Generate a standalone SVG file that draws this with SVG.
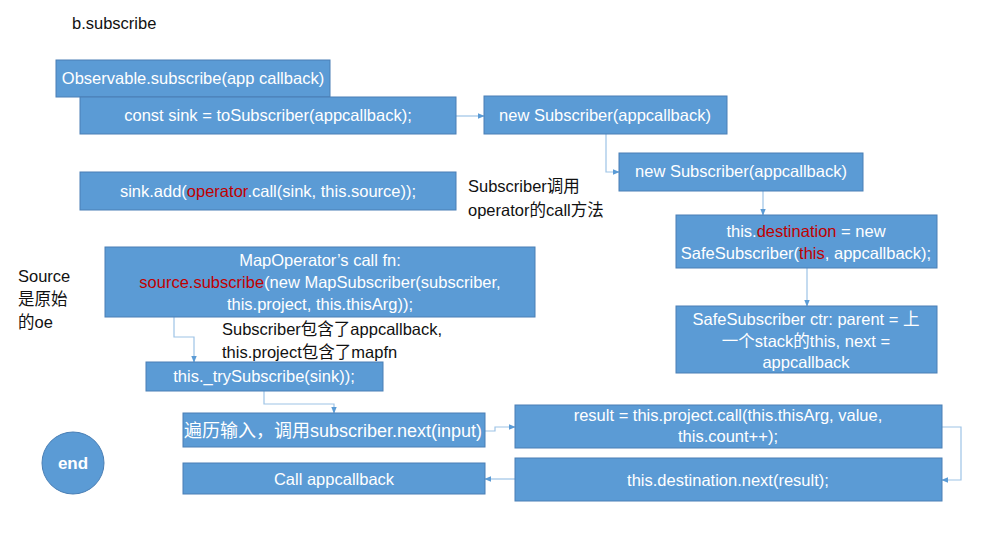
<svg xmlns="http://www.w3.org/2000/svg" width="987" height="536" viewBox="0 0 987 536">
<defs>
<style>
.box{fill:#5b9bd5;stroke:#4a7fb5;stroke-width:1}
.t{font-family:"Liberation Sans","Noto Sans CJK SC",sans-serif;font-size:16.5px;fill:#ffffff;text-anchor:middle}
.k{font-family:"Liberation Sans","Noto Sans CJK SC",sans-serif;font-size:16.5px;fill:#111111}
.r{fill:#c00000}
.c{fill:none;stroke:#9dc3e6;stroke-width:1.2}
</style>
<marker id="ah" viewBox="0 0 10 10" refX="9" refY="5" markerWidth="7" markerHeight="7" orient="auto-start-reverse" markerUnits="userSpaceOnUse">
<path d="M0,1 L10,5 L0,9 z" fill="#5b9bd5"/>
</marker>
</defs>
<rect width="987" height="536" fill="#ffffff"/>
<text class="k" x="72" y="29">b.subscribe</text>

<g id="connectors">
<path class="c" d="M456,116 L484,116" marker-end="url(#ah)"/>
<path class="c" d="M606,134 L606,172 L619,172" marker-end="url(#ah)"/>
<path class="c" d="M763,191 L763,215" marker-end="url(#ah)"/>
<path class="c" d="M807,268 L807,306" marker-end="url(#ah)"/>
<path class="c" d="M174,317 L174,337 L194,337 L194,362" marker-end="url(#ah)"/>
<path class="c" d="M264,391 L264,404 L334,404 L334,413" marker-end="url(#ah)"/>
<path class="c" d="M485,431 L495,431 L495,427 L515,427" marker-end="url(#ah)"/>
<path class="c" d="M942,427 L961,427 L961,480 L942,480" marker-end="url(#ah)"/>
<path class="c" d="M515,479 L485,479" marker-end="url(#ah)"/>
</g>

<g id="n1"><rect class="box" x="56" y="60" width="274" height="37"/><text class="t" x="193" y="84">Observable.subscribe(app callback)</text></g>
<g id="n2"><rect class="box" x="80" y="97" width="376" height="37"/><text class="t" x="268" y="121">const sink = toSubscriber(appcallback);</text></g>
<g id="n3"><rect class="box" x="484" y="96" width="243" height="38"/><text class="t" x="605" y="121">new Subscriber(appcallback)</text></g>
<g id="n4"><rect class="box" x="619" y="153" width="244" height="38"/><text class="t" x="741" y="177">new Subscriber(appcallback)</text></g>
<g id="n5"><rect class="box" x="80" y="172" width="376" height="38"/><text class="t" x="268" y="197">sink.add(<tspan class="r">operator</tspan>.call(sink, this.source));</text></g>
<g id="n6"><rect class="box" x="676" y="215" width="261" height="53"/><text class="t" x="806" y="237">this.<tspan class="r">destination</tspan> = new</text><text class="t" x="806" y="259">SafeSubscriber(<tspan class="r">this</tspan>, appcallback);</text></g>
<g id="n7"><rect class="box" x="676" y="306" width="261" height="67"/><text class="t" x="806" y="325">SafeSubscriber ctr: parent = 上</text><text class="t" x="806" y="347">一个stack的this, next  =</text><text class="t" x="806" y="368">appcallback</text></g>
<g id="n8"><rect class="box" x="105" y="247" width="430" height="70"/><text class="t" x="320" y="266">MapOperator’s call fn:</text><text class="t" x="320" y="288"><tspan class="r">source.subscribe</tspan>(new MapSubscriber(subscriber,</text><text class="t" x="320" y="310">this.project, this.thisArg));</text></g>
<g id="n9"><rect class="box" x="146" y="362" width="237" height="29"/><text class="t" x="264" y="382">this._trySubscribe(sink));</text></g>
<g id="n10"><rect class="box" x="183" y="413" width="302" height="34"/><text class="t" x="333" y="437" style="font-size:18px">遍历输入，调用subscriber.next(input)</text></g>
<g id="n11"><rect class="box" x="515" y="405" width="427" height="43"/><text class="t" x="728" y="421">result = this.project.call(this.thisArg, value,</text><text class="t" x="728" y="442">this.count++);</text></g>
<g id="n12"><rect class="box" x="183" y="463" width="302" height="31"/><text class="t" x="334" y="485">Call appcallback</text></g>
<g id="n13"><rect class="box" x="515" y="458" width="427" height="43"/><text class="t" x="728" y="486">this.destination.next(result);</text></g>
<g id="end"><circle cx="73" cy="463" r="31" fill="#5b9bd5" stroke="#4a7fb5"/><text class="t" x="73" y="469" style="font-size:17px;font-weight:bold">end</text></g>

<g id="notes">
<text class="k" x="468" y="192">Subscriber调用</text>
<text class="k" x="468" y="216">operator的call方法</text>
<text class="k" x="18" y="282">Source</text>
<text class="k" x="18" y="305">是原始</text>
<text class="k" x="18" y="328">的oe</text>
<text class="k" x="222" y="335">Subscriber包含了appcallback,</text>
<text class="k" x="222" y="358">this.project包含了mapfn</text>
</g>
</svg>
